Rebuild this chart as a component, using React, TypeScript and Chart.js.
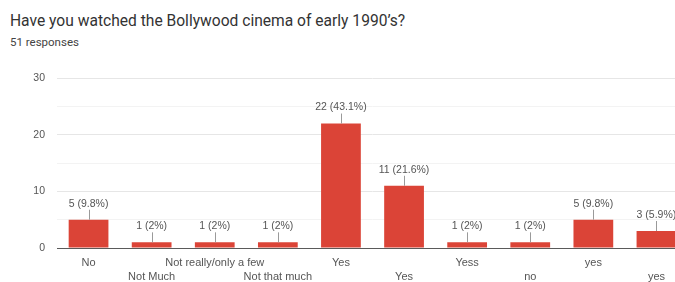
import React, { useEffect, useRef } from "react";
import { Chart, registerables } from "chart.js";

Chart.register(...registerables);

const categories = [
  "No",
  "Not Much",
  "Not really/only a few",
  "Not that much",
  "Yes",
  "Yes",
  "Yess",
  "no",
  "yes",
  "yes",
];
const counts = [5, 1, 1, 1, 22, 11, 1, 1, 5, 3];
const percents = ["9.8%", "2%", "2%", "2%", "43.1%", "21.6%", "2%", "2%", "9.8%", "5.9%"];
const yTicks = [0, 10, 20, 30];

const TITLE = "Have you watched the Bollywood cinema of early 1990\u2019s?";
const SUBTITLE = "51 responses";

const labelFont = "'Liberation Sans', Arial, sans-serif";

const valueLabelPlugin = {
  id: "valueLabels",
  afterDatasetsDraw(chart: any) {
    const ctx = chart.ctx;
    const meta = chart.getDatasetMeta(0);
    ctx.save();
    meta.data.forEach((bar: any, i: number) => {
      const x = bar.x;
      const y = bar.y;
      ctx.strokeStyle = "#9a9a9a";
      ctx.lineWidth = 1;
      ctx.beginPath();
      ctx.moveTo(Math.round(x) + 0.5, y);
      ctx.lineTo(Math.round(x) + 0.5, y - 10);
      ctx.stroke();
      ctx.fillStyle = "#555";
      ctx.font = `10.5px ${labelFont}`;
      ctx.textAlign = "center";
      ctx.textBaseline = "middle";
      ctx.fillText(`${counts[i]} (${percents[i]})`, x, y - 16);
    });
    ctx.restore();
  },
};

export default function App() {
  const ref = useRef<HTMLCanvasElement | null>(null);

  useEffect(() => {
    document.body.style.margin = "0";
    if (!ref.current) return;
    const chart = new Chart(ref.current, {
      type: "bar",
      data: {
        labels: categories,
        datasets: [
          {
            data: counts,
            backgroundColor: "#db4437",
            borderWidth: 0,
            barPercentage: 0.63,
            categoryPercentage: 1,
          },
        ],
      },
      options: {
        animation: false,
        responsive: false,
        layout: { padding: { top: 17, right: 32, left: 0, bottom: 0 } },
        plugins: {
          legend: { display: false },
          tooltip: { enabled: false },
        },
        scales: {
          x: {
            grid: { display: false, drawTicks: false },
            border: { display: true, color: "#5a5a5a", width: 1 },
            ticks: {
              autoSkip: false,
              maxRotation: 0,
              minRotation: 0,
              padding: 7,
              color: "#555",
              font: { family: labelFont, size: 11, lineHeight: 1.36 },
              callback: (_v: any, i: number) => (i % 2 ? ["", categories[i]] : categories[i]),
            },
            afterFit: (scale: any) => {
              scale.height = 34;
            },
          },
          y: {
            min: yTicks[0],
            max: yTicks[yTicks.length - 1],
            border: { display: false },
            grid: {
              drawTicks: false,
              color: (c: any) =>
                c.tick && c.tick.value === 0
                  ? "#5a5a5a"
                  : c.tick && c.tick.value % 10 === 0
                  ? "#e6e6e6"
                  : "#f3f3f3",
            },
            ticks: {
              stepSize: 5,
              padding: 12,
              color: "#555",
              font: { family: labelFont, size: 10.5 },
              callback: (v: any) => (yTicks.includes(Number(v)) ? String(v) : ""),
            },
            afterFit: (scale: any) => {
              scale.width = 57;
            },
          },
        },
      },
      plugins: [valueLabelPlugin],
    });
    return () => chart.destroy();
  }, []);

  return (
    <div
      style={{
        position: "fixed",
        left: 0,
        top: 0,
        width: 675,
        height: 282,
        overflow: "hidden",
        background: "#fff",
      }}
    >
      <div
        style={{
          position: "absolute",
          left: 10,
          top: 12,
          fontFamily: "Roboto, Arial, sans-serif",
          fontSize: 15.6,
          lineHeight: "19px",
          color: "#333",
          whiteSpace: "nowrap",
        }}
      >
        {TITLE}
      </div>
      <div
        style={{
          position: "absolute",
          left: 10,
          top: 35,
          fontFamily: "Roboto, Arial, sans-serif",
          fontSize: 11.5,
          lineHeight: "14px",
          color: "#444",
          whiteSpace: "nowrap",
        }}
      >
        {SUBTITLE}
      </div>
      <canvas
        ref={ref}
        width={720}
        height={222}
        style={{ position: "absolute", left: 0, top: 60, width: 720, height: 222 }}
      />
    </div>
  );
}
